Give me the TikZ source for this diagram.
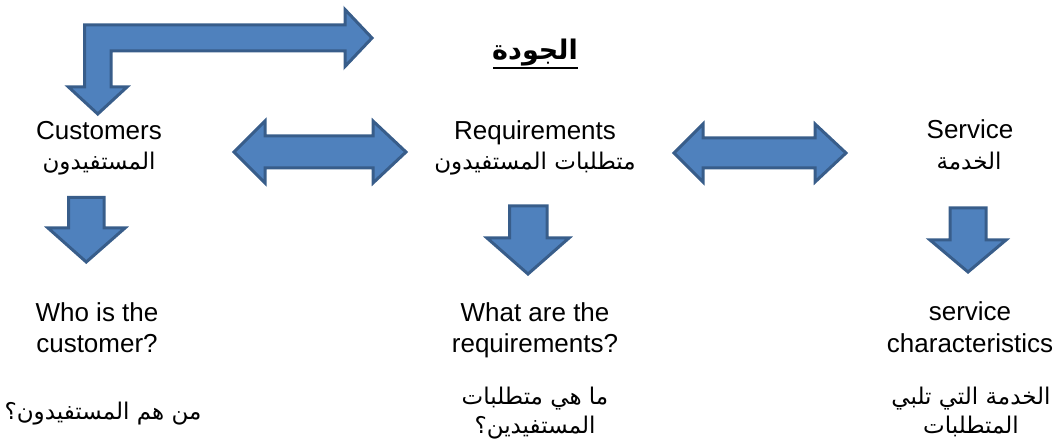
\documentclass[tikz,border=0pt]{standalone}
\usepackage{fontspec}
\setmainfont{Liberation Sans}
\newfontfamily\arabicfont[Script=Arabic]{DejaVu Sans}
\TeXXeTstate=1
\definecolor{arrfill}{HTML}{4F81BD}
\definecolor{arrline}{HTML}{385D8A}
\begin{document}
\begin{tikzpicture}[x=1pt,y=-1pt,
  blockarrow/.style={fill=arrfill,draw=arrline,line width=3pt,line join=miter},
  en/.style={anchor=base,inner sep=0pt,font=\fontsize{26}{31}\selectfont},
  ar/.style={anchor=base,inner sep=0pt,font=\arabicfont\fontsize{23}{31}\selectfont}]
\useasboundingbox (0,0) rectangle (1059,443);
% title
\node[anchor=base,inner sep=0pt,font=\arabicfont\bfseries\fontsize{27}{32}\selectfont] (title) at (535,60) {\beginR الجودة\endR};
\draw[line width=2pt] (493,68) -- (578,68);
% bent arrow
\draw[blockarrow] (84.5,87) -- (84.5,25) -- (345,25) -- (345,9.5) -- (372,38) -- (345,66.5) -- (345,51) -- (111,51) -- (111,87) -- (127,87) -- (97.75,114) -- (68.5,87) -- cycle;
% double arrows
\draw[blockarrow] (234,152) -- (265,121) -- (265,136) -- (373,136) -- (373,121) -- (406,152) -- (373,183) -- (373,168) -- (265,168) -- (265,183) -- cycle;
\draw[blockarrow] (674,153) -- (703,124) -- (703,138) -- (815,138) -- (815,124) -- (846,153) -- (815,182) -- (815,168) -- (703,168) -- (703,182) -- cycle;
% down arrows
\draw[blockarrow] (68.5,197.5) -- (104,197.5) -- (104,228) -- (125,228) -- (86.25,262) -- (48,228) -- (68.5,228) -- cycle;
\draw[blockarrow] (509.5,206) -- (547,206) -- (547,238) -- (569,238) -- (528,274) -- (487,238) -- (509.5,238) -- cycle;
\draw[blockarrow] (950,208) -- (986,208) -- (986,240) -- (1006,240) -- (968,272) -- (930,240) -- (950,240) -- cycle;
% top labels
\node[en] (cust) at (99,140) {Customers};
\node[ar] (custar) at (99,170) {\beginR المستفيدون\endR};
\node[en] (req) at (535,140) {Requirements};
\node[ar] (reqar) at (535,170) {\beginR متطلبات المستفيدون\endR};
\node[en] (serv) at (970,139) {Service};
\node[ar] (servar) at (969,170) {\beginR الخدمة\endR};
% bottom labels
\node[en] (q1a) at (97,321) {Who is the};
\node[en] (q1b) at (97,352) {customer?};
\node[ar] (q1ar) at (103,419) {\beginR من هم المستفيدون؟\endR};
\node[en] (q2a) at (535,321) {What are the};
\node[en] (q2b) at (535,352) {requirements?};
\node[ar] (q2ara) at (535,404) {\beginR ما هي متطلبات\endR};
\node[ar] (q2arb) at (535,433) {\beginR المستفيدين؟\endR};
\node[en] (q3a) at (970,320) {service};
\node[en] (q3b) at (970,352) {characteristics};
\node[ar] (q3ara) at (971,404) {\beginR الخدمة التي تلبي\endR};
\node[ar] (q3arb) at (971,433) {\beginR المتطلبات\endR};
\end{tikzpicture}
\end{document}
